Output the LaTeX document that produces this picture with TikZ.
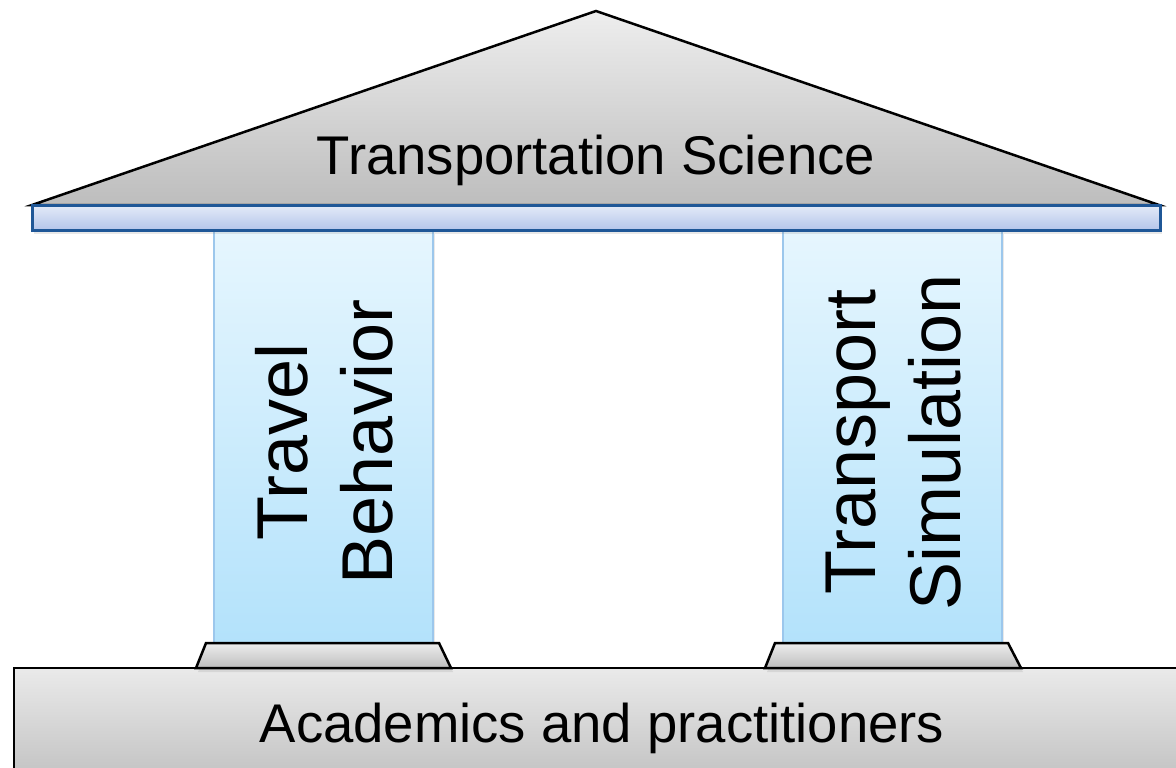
\documentclass[tikz,border=0pt]{standalone}
\usepackage{fontspec}
\setmainfont{Liberation Sans}
\usetikzlibrary{shadows}
\definecolor{roofTop}{HTML}{EEEEEE}
\definecolor{roofBot}{HTML}{BDBDBD}
\definecolor{beamTop}{HTML}{E4EBF8}
\definecolor{beamBot}{HTML}{B4C5EA}
\definecolor{beamLine}{HTML}{1F5797}
\definecolor{colTop}{HTML}{E6F6FE}
\definecolor{colBot}{HTML}{B3E2FB}
\definecolor{colLine}{HTML}{9CC7EC}
\definecolor{baseTop}{HTML}{EAEAEA}
\definecolor{baseBot}{HTML}{C4C4C4}
\tikzset{
  softshadow/.style={drop shadow={opacity=0.18,shadow xshift=2pt,shadow yshift=-4pt}},
  roof/.style={draw=black,line width=2.5pt,line join=miter,top color=roofTop,bottom color=roofBot},
  beam/.style={draw=beamLine,line width=3pt,top color=beamTop,bottom color=beamBot,softshadow},
  column/.style={draw=colLine,line width=1.8pt,top color=colTop,bottom color=colBot,softshadow},
  pedestal/.style={draw=black,line width=2.5pt,line join=miter,top color=roofTop,bottom color=roofBot,softshadow},
  basebox/.style={draw=black,line width=2.5pt,top color=baseTop,bottom color=baseBot},
  bigtext/.style={font=\fontsize{54.5}{64}\selectfont,text=black,inner sep=0pt},
  coltext/.style={font=\fontsize{72}{85}\selectfont,text=black,inner sep=0pt,rotate=90,align=center}
}
\begin{document}
\begin{tikzpicture}[x=1pt,y=-1pt]
\useasboundingbox (0,0) rectangle (1176,768);
% base
\path[basebox] (14,668) rectangle (1182,774);
% columns
\path[column] (214,230) rectangle (433,643);
\path[column] (783,230) rectangle (1002,643);
% pedestals
\path[pedestal] (206,643) -- (439,643) -- (451,668) -- (196,668) -- cycle;
\path[pedestal] (775,643) -- (1008,643) -- (1021,668) -- (765,668) -- cycle;
% roof
\path[roof] (32,205) -- (596,11) -- (1159,205) -- cycle;
% beam
\path[beam] (32,205) rectangle (1160,230);
% texts
\node[bigtext,anchor=base] (roofT) at (596,174) {Transportation Science};
\node[bigtext,anchor=base] (baseT) at (602,742) {Academics and practitioners};
\node[coltext] (leftT) at (324,442) {Travel\\Behavior};
\node[coltext] (rightT) at (894,442) {Transport\\Simulation};
\end{tikzpicture}
\end{document}
